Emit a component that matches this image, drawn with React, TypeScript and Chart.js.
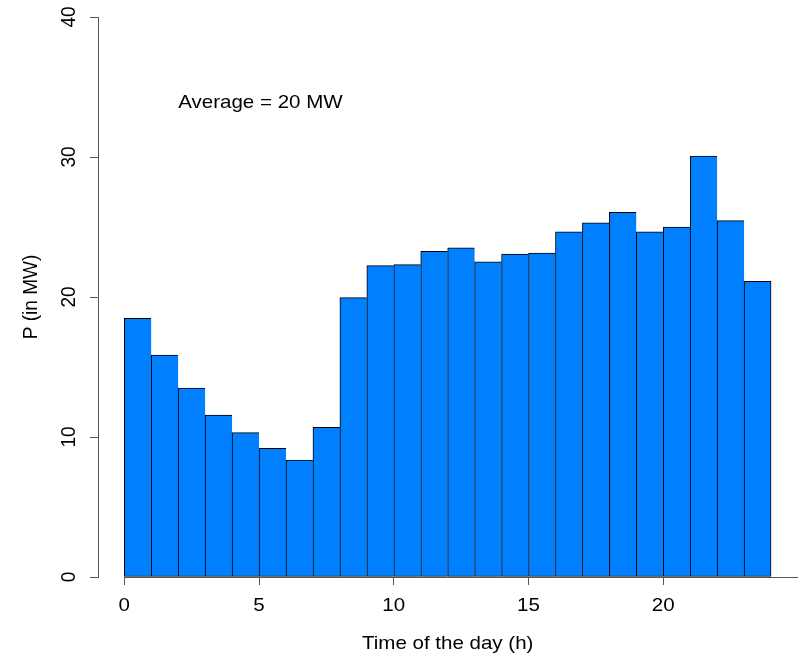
import React, { useEffect, useRef } from "react";
import { Chart, registerables } from "chart.js";

Chart.register(...registerables);

// ---- data ----
const hours: number[] = [0, 1, 2, 3, 4, 5, 6, 7, 8, 9, 10, 11, 12, 13, 14, 15, 16, 17, 18, 19, 20, 21, 22, 23];
const power: number[] = [
  18.48, 15.86, 13.5, 11.57, 10.31, 9.19, 8.36, 10.69, 19.95, 22.24, 22.31, 23.26,
  23.52, 22.52, 23.07, 23.14, 24.66, 25.29, 26.05, 24.66, 25.0, 30.07, 25.45, 21.12,
];
const xTicks: number[] = [0, 5, 10, 15, 20];
const yTicks: number[] = [0, 10, 20, 30, 40];
const xTitle = "Time of the day (h)";
const yTitle = "P (in MW)";
const noteText = "Average = 20 MW";
const noteX = 2;
const noteY = 34;

const FONT = '19px "Liberation Sans", Arial, Helvetica, sans-serif';
const SX = 1.08;
const AXIS_COLOR = "#555";

function drawText(
  ctx: CanvasRenderingContext2D,
  text: string,
  x: number,
  y: number,
  align: CanvasTextAlign,
  rotate: boolean
) {
  ctx.save();
  ctx.translate(x, y);
  ctx.scale(SX, 1);
  if (rotate) ctx.rotate(-Math.PI / 2);
  ctx.font = FONT;
  ctx.fillStyle = "#000";
  ctx.textAlign = align;
  ctx.textBaseline = "alphabetic";
  ctx.fillText(text, 0, 0);
  ctx.restore();
}

const rAxesPlugin = {
  id: "rAxes",
  beforeDatasetsDraw(chart: any) {
    const ctx = chart.ctx as CanvasRenderingContext2D;
    const xs = chart.scales.x;
    const ys = chart.scales.y;
    const y0 = Math.round(ys.getPixelForValue(0)) + 0.5;
    ctx.save();
    ctx.strokeStyle = AXIS_COLOR;
    ctx.lineWidth = 1;
    ctx.beginPath();
    ctx.moveTo(xs.getPixelForValue(0), y0);
    ctx.lineTo(chart.chartArea.right, y0);
    ctx.stroke();
    ctx.restore();
  },
  afterDraw(chart: any) {
    const ctx = chart.ctx as CanvasRenderingContext2D;
    const xs = chart.scales.x;
    const ys = chart.scales.y;
    const area = chart.chartArea;
    xTicks.forEach((v) => drawText(ctx, String(v), xs.getPixelForValue(v), 611, "center", false));
    yTicks.forEach((v) => drawText(ctx, String(v), 75, ys.getPixelForValue(v), "center", true));
    drawText(ctx, xTitle, xs.getPixelForValue(12), 649, "center", false);
    drawText(ctx, yTitle, 37, (area.top + area.bottom) / 2, "center", true);
    drawText(ctx, noteText, xs.getPixelForValue(noteX), ys.getPixelForValue(noteY) + 7, "left", false);
  },
};

export default function App() {
  const canvasRef = useRef<HTMLCanvasElement | null>(null);

  useEffect(() => {
    if (!canvasRef.current) return;
    const last = power.length - 1;
    const chart = new Chart(canvasRef.current, {
      type: "bar",
      data: {
        datasets: [
          {
            data: hours.map((h, i) => ({ x: h + 0.5, y: power[i] })),
            backgroundColor: "#0080FF",
            borderColor: "#000",
            borderWidth: (c: any) =>
              c.dataIndex === last
                ? { top: 1, right: 1, bottom: 1, left: 1 }
                : { top: 1, right: 0, bottom: 1, left: 1 },
            borderSkipped: false,
            barPercentage: 1,
            categoryPercentage: 1,
          } as any,
        ],
      },
      options: {
        animation: false,
        responsive: false,
        devicePixelRatio: 1,
        layout: { padding: { top: 17, left: 0, right: 0, bottom: 0 } },
        plugins: { legend: { display: false }, tooltip: { enabled: false } },
        scales: {
          x: {
            type: "linear",
            min: -0.976,
            max: 25.0,
            offset: false,
            afterBuildTicks: (s: any) => {
              s.ticks = xTicks.map((v) => ({ value: v }));
            },
            afterFit: (s: any) => {
              s.height = 77;
            },
            ticks: { display: false },
            grid: {
              offset: false,
              drawOnChartArea: false,
              drawTicks: true,
              tickLength: 8,
              color: AXIS_COLOR,
            },
            border: { display: false },
          },
          y: {
            type: "linear",
            min: 0,
            max: 40,
            afterBuildTicks: (s: any) => {
              s.ticks = yTicks.map((v) => ({ value: v }));
            },
            afterFit: (s: any) => {
              s.width = 98;
            },
            ticks: { display: false },
            grid: {
              drawOnChartArea: false,
              drawTicks: true,
              tickLength: 8,
              color: AXIS_COLOR,
            },
            border: { display: true, color: AXIS_COLOR, width: 1 },
          },
        },
      } as any,
      plugins: [rAxesPlugin],
    });
    return () => chart.destroy();
  }, []);

  return (
    <div style={{ position: "absolute", left: 0, top: 0, width: 798, height: 654, background: "#fff" }}>
      <canvas ref={canvasRef} width={798} height={654} style={{ display: "block" }} />
    </div>
  );
}
